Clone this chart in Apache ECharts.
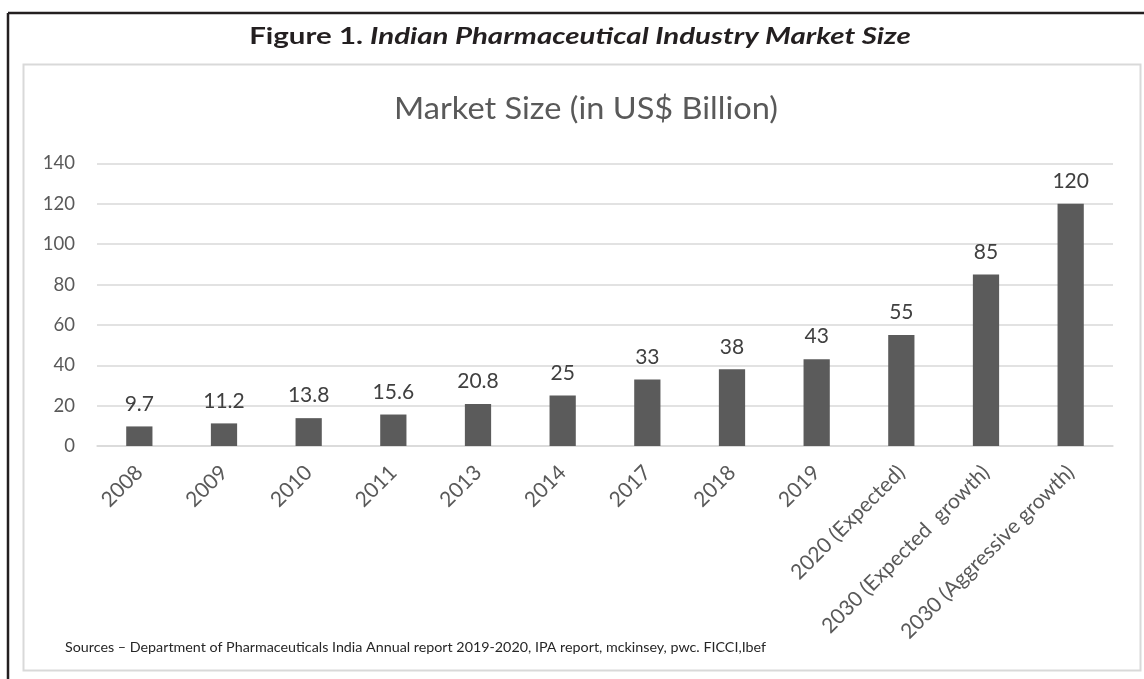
<!DOCTYPE html>
<html>
<head>
<meta charset="utf-8">
<script src="https://cdn.jsdelivr.net/npm/echarts@6/dist/echarts.min.js"></script>
<style>
html,body{margin:0;padding:0;background:#fff;}
#c{width:1144px;height:679px;}
</style>
</head>
<body>
<div id="c"></div>
<script>
const categories = ['2008','2009','2010','2011','2013','2014','2017','2018','2019','2020 (Expected)','2030 (Expected  growth)','2030 (Aggressive growth)'];
const marketSize = [9.7, 11.2, 13.8, 15.6, 20.8, 25, 33, 38, 43, 55, 85, 120];
const yTicks = [0, 20, 40, 60, 80, 100, 120, 140];
const figureLabel = 'Figure 1. ';
const figureTitle = 'Indian Pharmaceutical Industry Market Size';
const chartTitle = 'Market Size (in US$ Billion)';
const sourceText = 'Sources \u2013 Department of Pharmaceuticals India Annual report 2019-2020, IPA report, mckinsey, pwc. FICCI,Ibef';

const chart = echarts.init(document.getElementById('c'), null, {renderer: 'canvas'});
chart.setOption({
  backgroundColor: '#ffffff',
  animation: false,
  graphic: [
    {type: 'line', shape: {x1: 8, y1: 13, x2: 1144, y2: 13}, style: {stroke: '#231f20', lineWidth: 2.5}},
    {type: 'line', shape: {x1: 8, y1: 13, x2: 8, y2: 679}, style: {stroke: '#231f20', lineWidth: 2.5}},
    {type: 'rect', shape: {x: 23.5, y: 64.5, width: 1117, height: 606}, style: {fill: '#ffffff', stroke: '#d9d9d9', lineWidth: 2}, z: -1},
    {type: 'text', x: 580, y: 37, scaleX: 1.28, style: {
      text: '{a|' + figureLabel + '}{b|' + figureTitle + '}',
      align: 'center', verticalAlign: 'middle',
      rich: {
        a: {fontFamily: 'Lato', fontWeight: 'bold', fontSize: 23, fill: '#231f20'},
        b: {fontFamily: 'Lato', fontWeight: 'bold', fontStyle: 'italic', fontSize: 23, fill: '#231f20'}
      }
    }},
    {type: 'text', x: 586, y: 109, scaleX: 1.05, style: {text: chartTitle, fontFamily: 'Lato', fontSize: 31, fill: '#595959', align: 'center', verticalAlign: 'middle'}},
    {type: 'text', x: 65, y: 647, style: {text: sourceText, fontFamily: 'Lato', fontSize: 14.3, fill: '#262626', verticalAlign: 'middle'}}
  ],
  grid: {left: 97, right: 31, top: 163.5, bottom: 233, containLabel: false},
  xAxis: {
    type: 'category', data: categories,
    axisLine: {lineStyle: {color: '#d9d9d9', width: 1.5}},
    axisTick: {show: false},
    axisLabel: {rotate: 45, interval: 0, margin: 23, fontFamily: 'Lato', fontSize: 21, color: '#595959'}
  },
  yAxis: {
    type: 'value', min: 0, max: 140, interval: 20,
    axisLine: {show: false}, axisTick: {show: false},
    splitLine: {lineStyle: {color: '#d9d9d9', width: 1.5}},
    axisLabel: {margin: 22, fontFamily: 'Lato', fontSize: 18.5, color: '#595959',
      formatter: v => yTicks.includes(v) ? String(v) : ''}
  },
  series: [{
    type: 'bar', data: marketSize, barWidth: '31%',
    itemStyle: {color: '#5b5b5b'},
    label: {show: true, position: 'top', distance: 12, fontFamily: 'Lato', fontSize: 21, color: '#404040'}
  }]
});
</script>
</body>
</html>
